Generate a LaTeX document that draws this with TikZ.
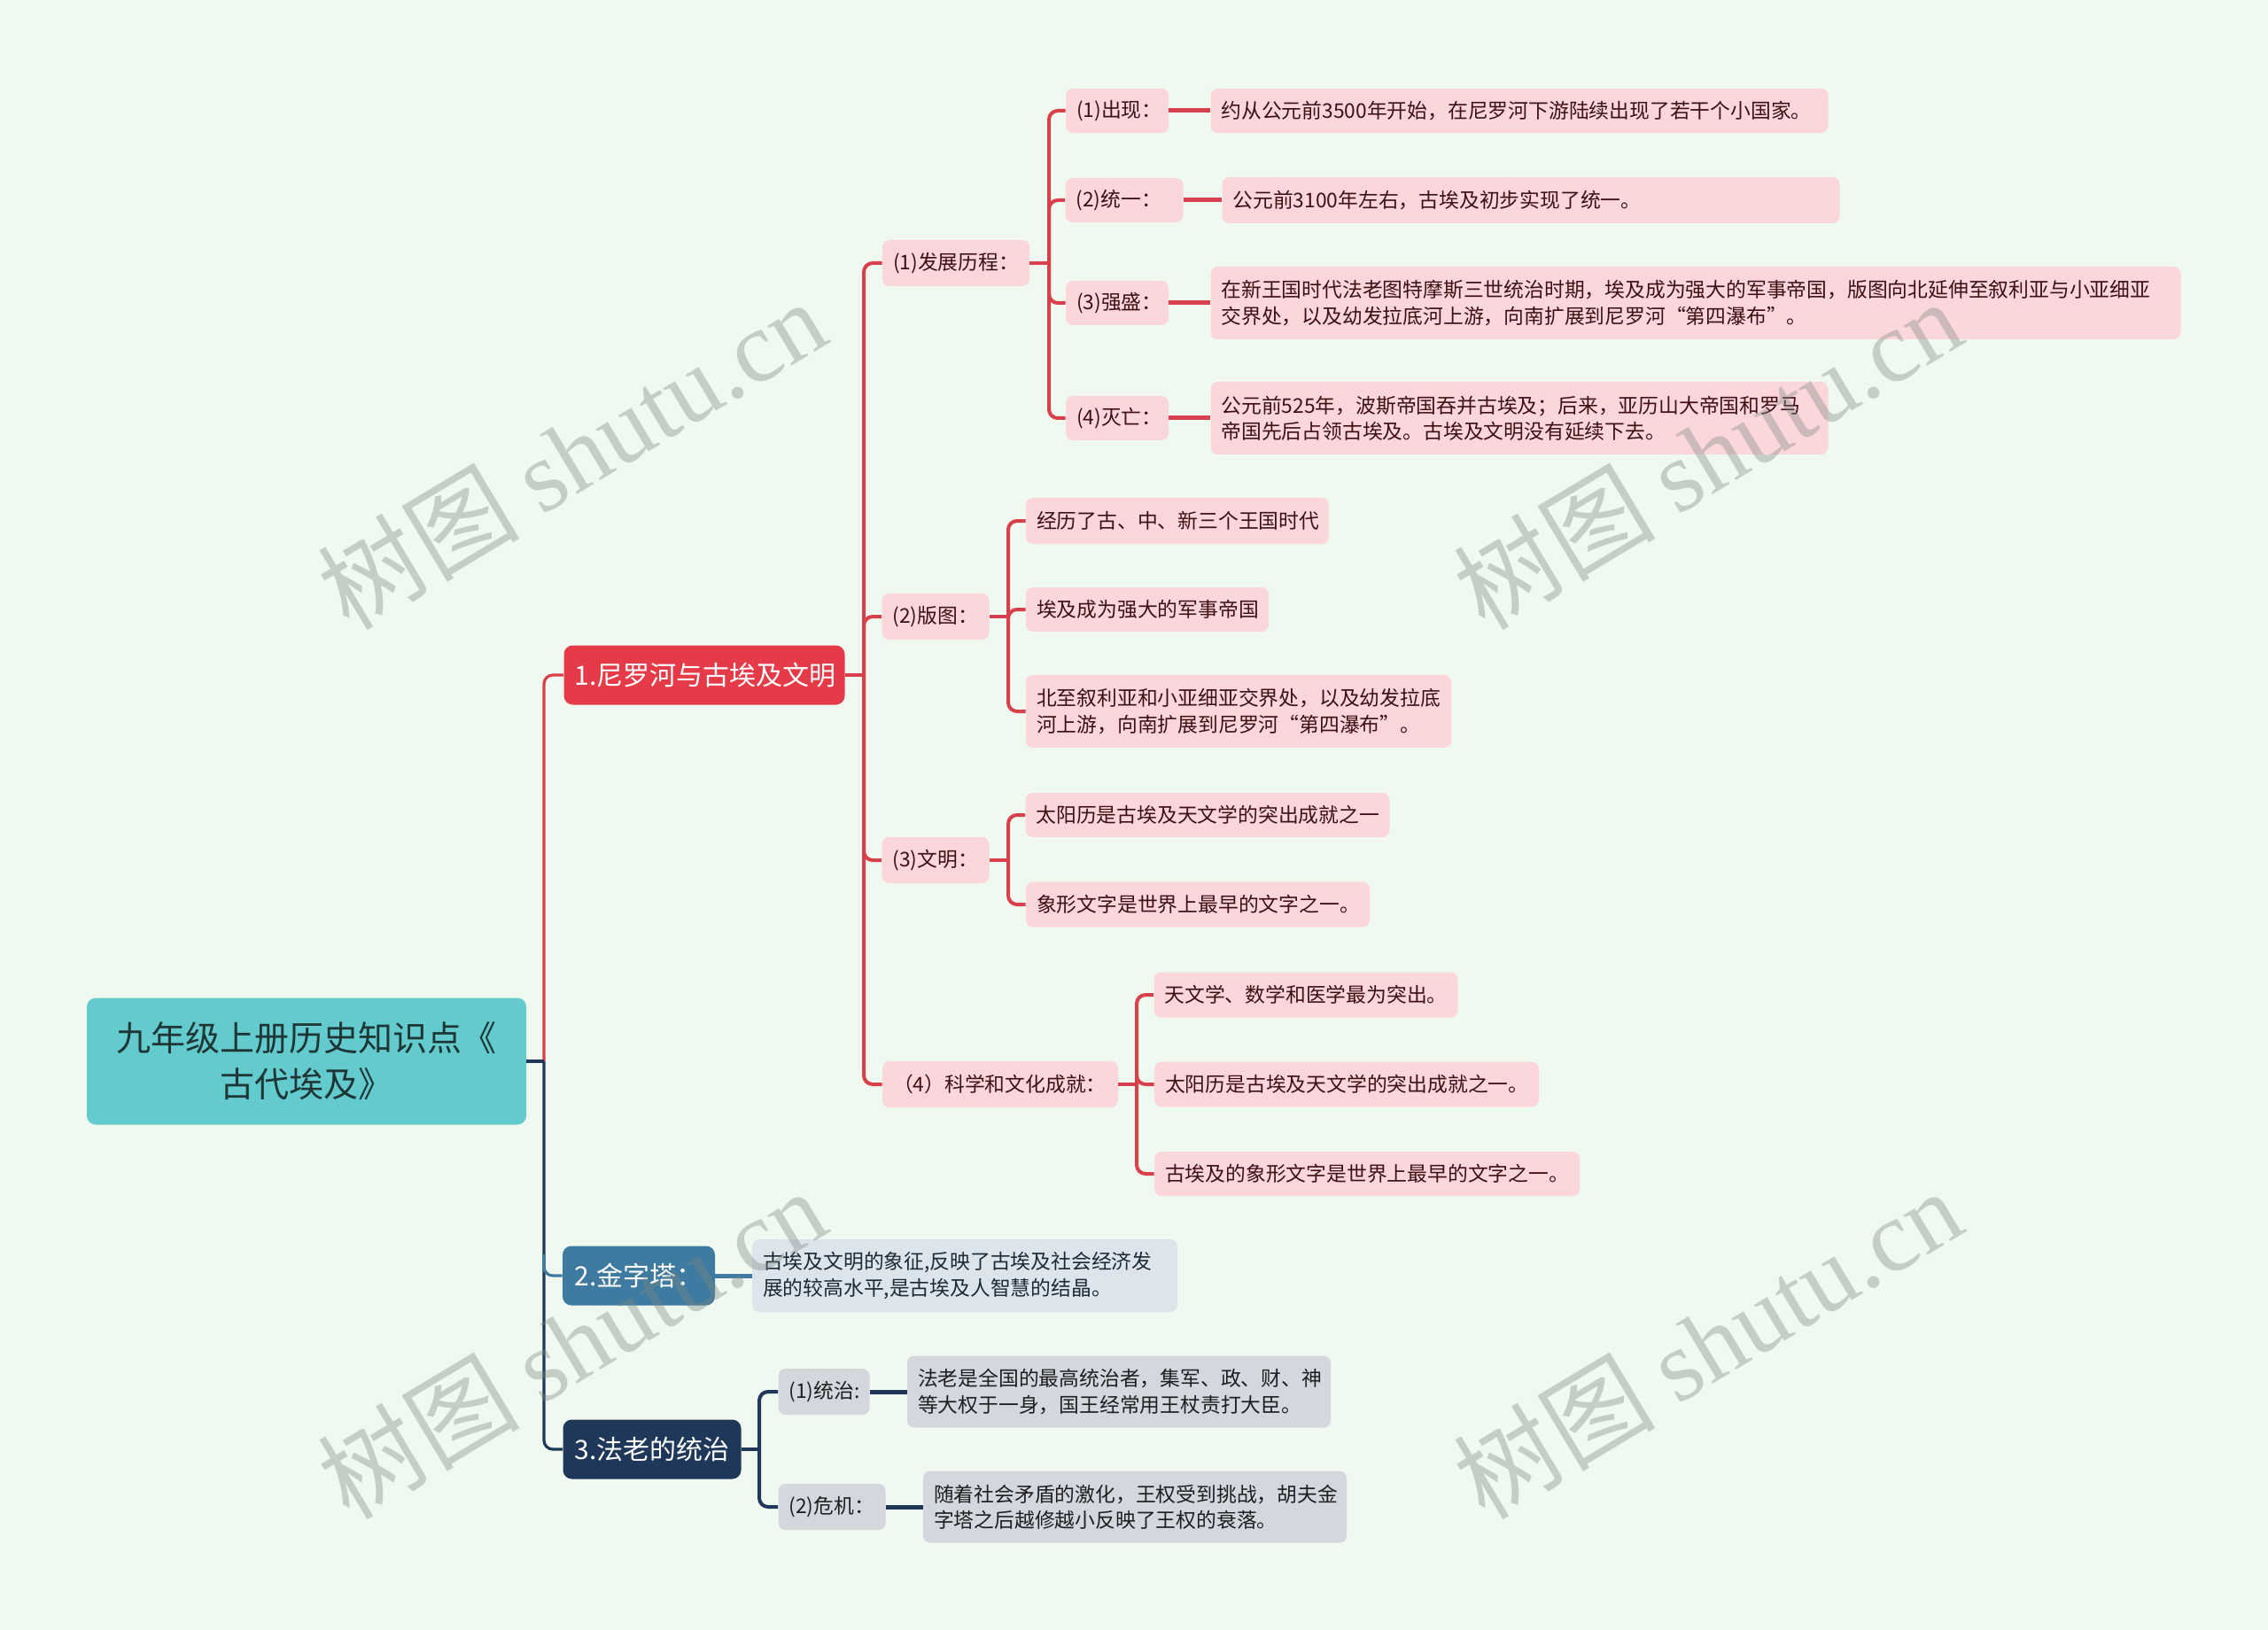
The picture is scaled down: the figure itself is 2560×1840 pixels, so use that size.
\documentclass[tikz,border=0pt]{standalone}
\usepackage{fontspec}
\setmainfont{Noto Sans CJK SC}
\newfontfamily\wmserif{Liberation Serif}
\usetikzlibrary{calc}
\definecolor{bgc}{HTML}{F0F9EF}
\definecolor{tealc}{HTML}{63CBCD}
\definecolor{roottxt}{HTML}{1E3636}
\definecolor{redf}{HTML}{E53A48}
\definecolor{redl}{HTML}{D8404C}
\definecolor{pinkf}{HTML}{FBD7DB}
\definecolor{pinkt}{HTML}{3F0F12}
\definecolor{steelc}{HTML}{3F7BA1}
\definecolor{lbluef}{HTML}{DCE5EC}
\definecolor{lbluet}{HTML}{1D2935}
\definecolor{navyc}{HTML}{1F3859}
\definecolor{grayf}{HTML}{D4D8DE}
\definecolor{grayt}{HTML}{1E1E22}
\definecolor{wmc}{RGB}{125,135,128}
\newcommand\myfsm{\fontsize{11.4pt}{14.6pt}\selectfont}
\newcommand\myfbr{\fontsize{15pt}{18pt}\selectfont}
\newcommand\myfroot{\fontsize{19.5pt}{26pt}\selectfont}
\begin{document}
\begin{tikzpicture}[x=0.5pt,y=-0.5pt,
  sz/.style 2 args={text width=#1, minimum height=#2},
  basebox/.style={rounded corners=4pt, inner xsep=6pt, inner ysep=0pt, align=left, font=\myfsm},
  pk/.style={basebox, fill=pinkf, text=pinkt},
  lb/.style={basebox, fill=lbluef, text=lbluet},
  gy/.style={basebox, fill=grayf, text=grayt},
  brbox/.style={rounded corners=5pt, inner xsep=6pt, inner ysep=0pt, align=center, font=\myfbr, text=white, minimum height=33.5pt},
  rootbox/.style={rounded corners=5pt, fill=tealc, text=roottxt, font=\myfroot, align=center, inner xsep=6pt, inner ysep=0pt},
  conn/.style={line width=2pt, rounded corners=5pt},
  stub/.style={line width=2.5pt},
  topl/.style={line width=1.6pt, rounded corners=5pt},
  wm/.style={font=\fontsize{57pt}{57pt}\selectfont, text=wmc, opacity=0.37, inner sep=0pt}
]
\fill[bgc] (0,0) rectangle (2560,1840);
\useasboundingbox (0,0) rectangle (2560,1840);

% trunk coordinates
\coordinate (tk0) at (614,0);
\coordinate (tk1) at (975,0);
\coordinate (tkp1) at (1184,0);
\coordinate (tkp2) at (1138,0);
\coordinate (tkp4) at (1283,0);
\coordinate (tk3) at (857,0);

% root and main branches
\node[rootbox, text width=236pt, minimum height=71.5pt] (root) at (346,1198) {九年级上册历史知识点《\\古代埃及》};
\node[brbox, fill=redf, text width=146.5pt] (B1) at (795,762) {1.尼罗河与古埃及文明};
\node[brbox, fill=steelc, text width=74pt] (B2) at (721,1440) {2.金字塔：};
\node[brbox, fill=navyc, text width=88.5pt] (B3) at (736,1636) {3.法老的统治};

% level 2 under B1
\node[pk, sz={71pt}{26pt}] (p1) at (1079,297) {(1)发展历程：};
\node[pk, sz={48.5pt}{26pt}] (p2) at (1056,696) {(2)版图：};
\node[pk, sz={48.5pt}{26pt}] (p3) at (1056,971) {(3)文明：};
\node[pk, sz={121pt}{26pt}] (p4) at (1129,1224) {（4）科学和文化成就：};

% level 3 under p1
\node[pk, sz={46pt}{25pt}] (q1) at (1261,125) {(1)出现：};
\node[pk, sz={54.5pt}{25pt}] (q2) at (1269,226) {(2)统一：};
\node[pk, sz={46pt}{25pt}] (q3) at (1261,342) {(3)强盛：};
\node[pk, sz={46pt}{25pt}] (q4) at (1261,472) {(4)灭亡：};
\node[pk, sz={336.5pt}{25pt}] (t1) at (1715,125) {约从公元前3500年开始，在尼罗河下游陆续出现了若干个小国家。};
\node[pk, sz={336.5pt}{26pt}] (t2) at (1728,226) {公元前3100年左右，古埃及初步实现了统一。};
\node[pk, sz={535.5pt}{41pt}] (t3) at (1914,342) {在新王国时代法老图特摩斯三世统治时期，埃及成为强大的军事帝国，版图向北延伸至叙利亚与小亚细亚\\交界处，以及幼发拉底河上游，向南扩展到尼罗河“第四瀑布”。};
\node[pk, sz={336.5pt}{41pt}] (t4) at (1715,472) {公元前525年，波斯帝国吞并古埃及；后来，亚历山大帝国和罗马\\帝国先后占领古埃及。古埃及文明没有延续下去。};

% under p2
\node[pk, sz={159pt}{26pt}] (a) at (1329,588) {经历了古、中、新三个王国时代};
\node[pk, sz={125pt}{25pt}] (b) at (1295,688) {埃及成为强大的军事帝国};
\node[pk, sz={228pt}{41pt}] (c) at (1398,803) {北至叙利亚和小亚细亚交界处，以及幼发拉底\\河上游，向南扩展到尼罗河“第四瀑布”。};

% under p3
\node[pk, sz={193.5pt}{25pt}] (d) at (1363,920) {太阳历是古埃及天文学的突出成就之一};
\node[pk, sz={182pt}{25.5pt}] (e) at (1352,1021) {象形文字是世界上最早的文字之一。};

% under p4
\node[pk, sz={159.5pt}{25.5pt}] (f) at (1474,1123) {天文学、数学和医学最为突出。};
\node[pk, sz={205pt}{25.5pt}] (g) at (1520,1224) {太阳历是古埃及天文学的突出成就之一。};
\node[pk, sz={228pt}{25pt}] (h) at (1543,1325) {古埃及的象形文字是世界上最早的文字之一。};

% B2 text
\node[lb, sz={228pt}{41pt}] (B2t) at (1089,1440) {古埃及文明的象征,反映了古埃及社会经济发\\展的较高水平,是古埃及人智慧的结晶。};

% B3 children
\node[gy, sz={39.5pt}{26pt}] (r1) at (930,1571) {(1)统治:};
\node[gy, sz={48.5pt}{26pt}] (r2) at (939,1701) {(2)危机：};
\node[gy, sz={227pt}{40.5pt}] (r1t) at (1263,1571) {法老是全国的最高统治者，集军、政、财、神\\等大权于一身，国王经常用王杖责打大臣。};
\node[gy, sz={227pt}{40.5pt}] (r2t) at (1281,1701) {随着社会矛盾的激化，王权受到挑战，胡夫金\\字塔之后越修越小反映了王权的衰落。};

% ---- connectors ----
% root level
\draw[topl, redl] (root.east -| tk0) |- (B1.west);
\draw[topl, navyc] (root.east -| tk0) |- (B3.west);
\draw[topl, steelc] ($(B2.west -| tk0)+(0,-24)$) |- (B2.west);
\draw[topl, navyc] (root.east) -- (root.east -| tk0);

% B1 -> p*
\draw[conn, redl] (B1.east) -- (B1.east -| tk1);
\draw[conn, redl] (B1.east -| tk1) |- (p1.west);
\draw[conn, redl] (B1.east -| tk1) |- (p2.west);
\draw[conn, redl] (B1.east -| tk1) |- (p3.west);
\draw[conn, redl] (B1.east -| tk1) |- (p4.west);

% p1 -> q*
\draw[conn, redl] (p1.east) -- (p1.east -| tkp1);
\draw[conn, redl] (p1.east -| tkp1) |- (q1.west);
\draw[conn, redl] (p1.east -| tkp1) |- (q2.west);
\draw[conn, redl] (p1.east -| tkp1) |- (q3.west);
\draw[conn, redl] (p1.east -| tkp1) |- (q4.west);
\draw[stub, redl] (q1.east) -- (t1.west);
\draw[stub, redl] (q2.east) -- (t2.west);
\draw[stub, redl] (q3.east) -- (t3.west);
\draw[stub, redl] (q4.east) -- (t4.west);

% p2 -> a,b,c
\draw[conn, redl] (p2.east) -- (p2.east -| tkp2);
\draw[conn, redl] (p2.east -| tkp2) |- (a.west);
\draw[conn, redl] (p2.east -| tkp2) |- (b.west);
\draw[conn, redl] (p2.east -| tkp2) |- (c.west);

% p3 -> d,e
\draw[conn, redl] (p3.east) -- (p3.east -| tkp2);
\draw[conn, redl] (p3.east -| tkp2) |- (d.west);
\draw[conn, redl] (p3.east -| tkp2) |- (e.west);

% p4 -> f,g,h
\draw[conn, redl] (p4.east) -- (p4.east -| tkp4);
\draw[conn, redl] (p4.east -| tkp4) |- (f.west);
\draw[conn, redl] (p4.east -| tkp4) |- (g.west);
\draw[conn, redl] (p4.east -| tkp4) |- (h.west);

% B2 -> text
\draw[stub, steelc] (B2.east) -- (B2t.west);

% B3 -> r*
\draw[conn, navyc] (B3.east) -- (B3.east -| tk3);
\draw[conn, navyc] (B3.east -| tk3) |- (r1.west);
\draw[conn, navyc] (B3.east -| tk3) |- (r2.west);
\draw[stub, navyc] (r1.east) -- (r1t.west);
\draw[stub, navyc] (r2.east) -- (r2t.west);

% watermarks
\node[wm, rotate=31] (wm1) at (645,512) {树图 {\wmserif shutu.cn}};
\node[wm, rotate=31] (wm2) at (1927,512) {树图 {\wmserif shutu.cn}};
\node[wm, rotate=31] (wm3) at (645,1516) {树图 {\wmserif shutu.cn}};
\node[wm, rotate=31] (wm4) at (1927,1516) {树图 {\wmserif shutu.cn}};
\end{tikzpicture}
\end{document}
